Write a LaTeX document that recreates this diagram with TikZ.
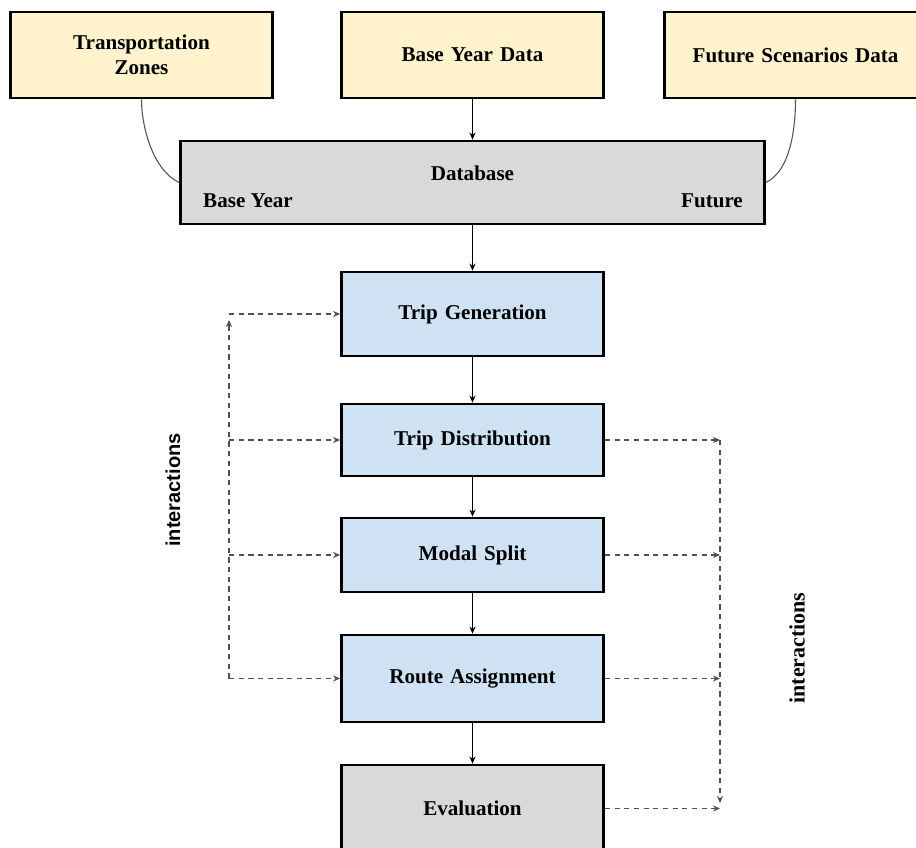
\documentclass[tikz,border=0pt]{standalone}
\usepackage{fontspec}
\setmainfont{Liberation Serif}
\newfontfamily\labelsans{Liberation Sans}
\usetikzlibrary{
	positioning,
	arrows.meta,
	calc
}
\definecolor{InputYellow}{RGB}{255,242,204}
\definecolor{StageBlue}{RGB}{207,226,243}
\definecolor{PlainGrey}{RGB}{217,217,217}
\definecolor{LinkGrey}{RGB}{80,80,80}

\tikzset{
	boxtext/.style={
		font=\fontsize{12}{14}\selectfont\bfseries,
		align=center
	},
	box/.style={
		boxtext,
		draw=black,
		line width=1.6pt,
		text width=5cm,
		minimum width=5.24cm
	},
	inbox/.style={
		box,
		fill=InputYellow,
		minimum height=1.72cm
	},
	stagebox/.style={
		box,
		fill=StageBlue
	},
	flow/.style={
		line width=0.6pt,
		-{Stealth[length=4pt,width=3.5pt]}
	},
	link/.style={
		LinkGrey,
		dash pattern=on 3pt off 2.5pt,
		line width=0.6pt,
		-{Stealth[length=4pt,width=3.5pt]}
	},
	feed/.style={
		LinkGrey,
		line width=0.6pt
	}
}

\begin{document}
\begin{tikzpicture}[x=0.02cm,y=-0.02cm]
				
				\useasboundingbox (0,0) rectangle (916,848);
				\clip (0,0) rectangle (916,848);
				
				% data sources
				\node[inbox] (zones) at (141.5,55) {Transportation\\Zones};
				\node[inbox] (baseData) at (472.5,55) {Base Year Data};
				\node[inbox] (futureData) at (795.5,55) {Future Scenarios Data};
				
				% database
				\node[
				box,
				fill=PlainGrey,
				text width=11.4cm,
				minimum width=11.68cm,
				minimum height=1.66cm
				]
				(db) at (472.5,182.5) {};
				\node[boxtext] (dbTitle) at (472.5,173) {Database};
				\node[boxtext] (dbBase) at (248,201) {Base Year};
				\node[boxtext] (dbFuture) at (712,201) {Future};
				
				% model stages
				\node[stagebox, minimum height=1.68cm] (gen) at (472.5,314) {Trip Generation};
				\node[stagebox, minimum height=1.44cm] (dist) at (472.5,440) {Trip Distribution};
				\node[stagebox, minimum height=1.48cm] (modal) at (472.5,555) {Modal Split};
				\node[stagebox, minimum height=1.74cm] (assign) at (472.5,678.5) {Route Assignment};
				\node[box, fill=PlainGrey, minimum height=1.74cm] (eval) at (472.5,808.5) {Evaluation};
				
				\draw[feed] (zones.south) to[out=-90,in=155,looseness=0.8] (db.west);
				\draw[feed] (futureData.south) to[out=-90,in=25,looseness=0.8] (db.east);
				
				\draw[flow] (baseData) -- (db);
				\draw[flow] (db) -- (gen);
				\draw[flow] (gen) -- (dist);
				\draw[flow] (dist) -- (modal);
				\draw[flow] (modal) -- (assign);
				\draw[flow] (assign) -- (eval);
				
				% feedback on the left
				\coordinate (leftTop) at (229,320);
				\coordinate (leftFoot) at (229,678.5);
				\draw[link] (leftFoot) -- (leftTop);
				\foreach \stage in {gen,dist,modal,assign}
				\draw[link] (leftFoot |- \stage.west) -- (\stage.west);
				
				% feedback on the right
				\coordinate (rightTop) at (720,440);
				\coordinate (rightFoot) at (720,803);
				\draw[link] (rightTop) -- (rightFoot);
				\foreach \stage in {dist,modal,assign,eval}
				\draw[link] (\stage.east) -- (rightTop |- \stage.east);
				
				\node[
				rotate=90,
				font=\labelsans\fontsize{11.4}{13}\selectfont\bfseries
				]
				(leftNote) at (173,490) {interactions};
				\node[
				rotate=90,
				font=\fontsize{12.5}{14}\selectfont\bfseries
				]
				(rightNote) at (797,648) {interactions};
				
			\end{tikzpicture}
\end{document}
